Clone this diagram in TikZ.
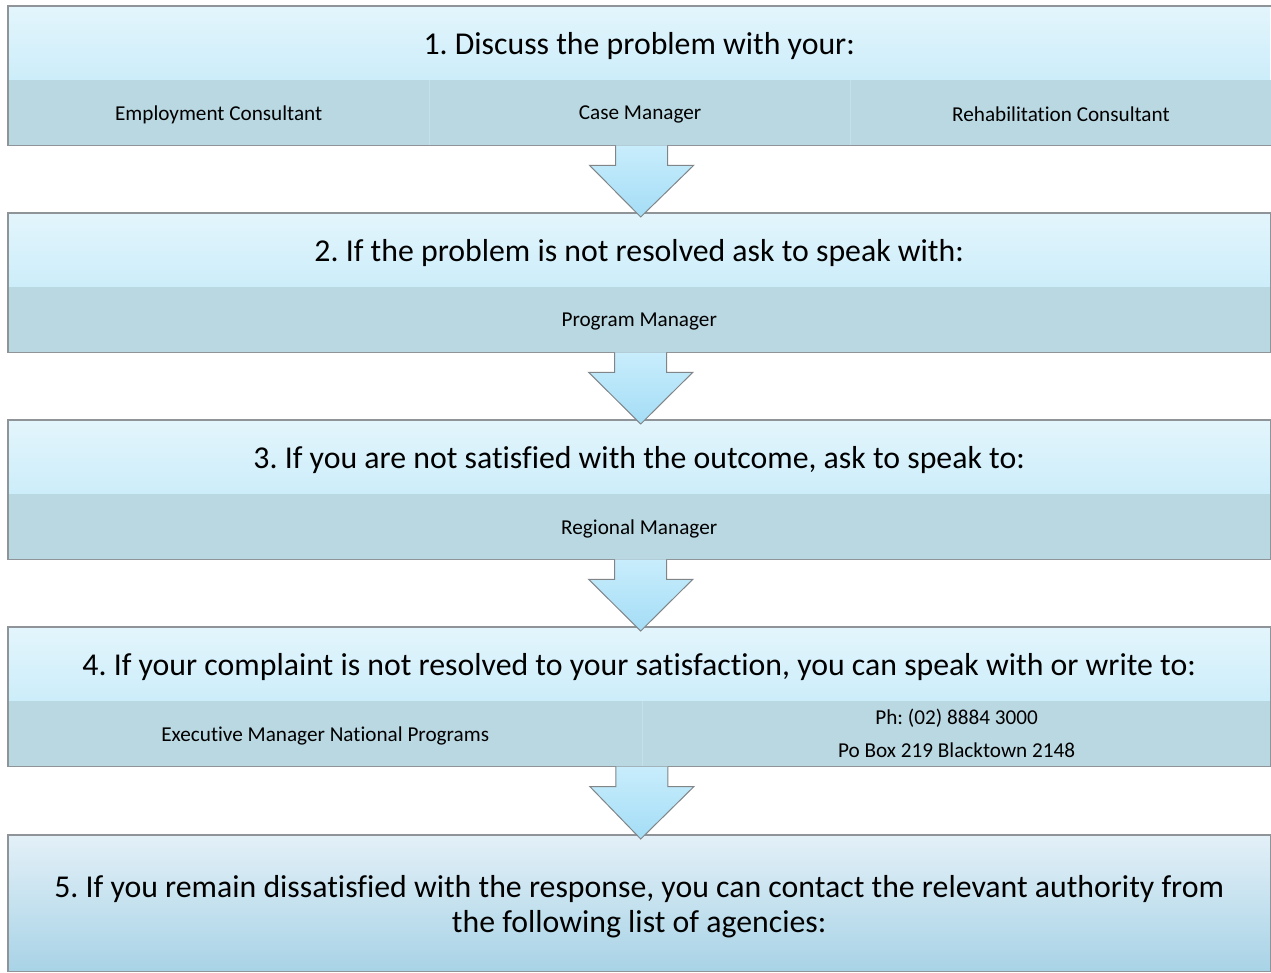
\documentclass[tikz,border=0pt]{standalone}
\usepackage{fontspec}
\setmainfont{Carlito}[Ligatures=NoCommon]
\usetikzlibrary{calc,shadows,backgrounds}
\frenchspacing
\definecolor{hdtop}{HTML}{E3F5FC}
\definecolor{hdbot}{HTML}{CCEDFA}
\definecolor{band}{HTML}{BAD8E2}
\definecolor{divline}{HTML}{C6E0E8}
\definecolor{edge}{HTML}{8E9497}
\definecolor{arrtop}{HTML}{C8EDFC}
\definecolor{arrbot}{HTML}{A4DDF6}
\definecolor{lasttop}{HTML}{E3F0F8}
\definecolor{lastbot}{HTML}{A8D3E6}
\newcommand\bigtxt{\fontsize{31.8}{35}\selectfont}
\newcommand\smalltxt{\fontsize{21.2}{33}\selectfont}
\newcommand\lowered[2]{\raisebox{-#1}[\height][\depth]{#2}}
\tikzset{
  header/.style={anchor=north west, minimum width=1262pt, minimum height=74pt,
    inner sep=0pt, top color=hdtop, bottom color=hdbot, font=\bigtxt},
  bandcell/.style={anchor=north west, minimum height=65pt, inner sep=0pt,
    fill=band, font=\smalltxt, align=center},
  boxline/.style={draw=edge, line width=1.1pt},
  shadowbox/.style={fill=white, drop shadow={opacity=0.35, shadow xshift=1pt, shadow yshift=-2.5pt}},
  arrowfill/.style={top color=arrtop, bottom color=arrbot},
  arrowedge/.style={draw=edge!90!black, line width=1pt, line join=miter},
  divider/.style={draw=divline, line width=1pt},
}
\newcommand\flowarrow[2]{%
  \shade[arrowfill] ($(#1.south)+(-24.5,0)$) -- ++(0,20) -- ++(-26,0)
     -- ($(#2.north)+(1.5,4)$) -- ($(#1.south)+(53.5,20)$) -- ++(-26,0) -- ++(0,-20) -- cycle;
  \draw[arrowedge] ($(#1.south)+(-24.5,0)$) -- ++(0,20) -- ++(-26,0)
     -- ($(#2.north)+(1.5,4)$) -- ($(#1.south)+(53.5,20)$) -- ++(-26,0) -- ++(0,-20);
}
\begin{document}
\begin{tikzpicture}[x=1pt,y=-1pt]
\useasboundingbox[fill=white] (0,0) rectangle (1271,973);

% Box 1
\node[header] (h1) at (8,6) {\lowered{3pt}{1. Discuss the problem with your:}};
\node[bandcell, minimum width=421pt] (c1a) at (8,80) {\lowered{2pt}{Employment Consultant}};
\node[bandcell, minimum width=421pt] (c1b) at (c1a.north east) {\lowered{2pt}{Case Manager}};
\node[bandcell, minimum width=420pt] (c1c) at (c1b.north east) {\lowered{2pt}{Rehabilitation Consultant}};

% Box 2
\node[header] (h2) at (8,213) {\lowered{3pt}{2. If the problem is not resolved ask to speak with:}};
\node[bandcell, minimum width=1262pt] (c2) at (8,287) {\lowered{2pt}{Program Manager}};

% Box 3
\node[header] (h3) at (8,420) {\lowered{3pt}{3. If you are not satisfied with the outcome, ask to speak to:}};
\node[bandcell, minimum width=1262pt] (c3) at (8,494) {\lowered{2pt}{Regional Manager}};

% Box 4
\node[header] (h4) at (8,627) {\lowered{3pt}{4. If your complaint is not resolved to your satisfaction, you can speak with or write to:}};
\node[bandcell, minimum width=634pt] (c4a) at (8,701) {\lowered{2pt}{Executive Manager National Programs}};
\node[bandcell, minimum width=628pt] (c4b) at (c4a.north east) {Ph: (02) 8884 3000\\Po Box 219 Blacktown 2148};
\node[inner sep=0pt, minimum size=0pt] (c4mid) at ($(c4a.south east)+(-2,0)$) {};

% Box 5
\node[anchor=north west, minimum width=1262pt, minimum height=136pt, inner sep=0pt,
  top color=lasttop, bottom color=lastbot, font=\bigtxt] (h5) at (8,835)
  {\lowered{4.5pt}{\begin{tabular}{@{}c@{}}5. If you remain dissatisfied with the response, you can contact the relevant authority from\\the following list of agencies:\end{tabular}}};

% shadows and outlines
\begin{scope}[on background layer]
  \path[shadowbox] (h1.north west) rectangle (c1c.south east);
  \path[shadowbox] (h2.north west) rectangle (c2.south east);
  \path[shadowbox] (h3.north west) rectangle (c3.south east);
  \path[shadowbox] (h4.north west) rectangle (c4b.south east);
  \path[shadowbox] (h5.north west) rectangle (h5.south east);
\end{scope}
\draw[divider] (c1a.north east) -- (c1a.south east);
\draw[divider] (c1b.north east) -- (c1b.south east);
\draw[divider] (c4a.north east) -- (c4a.south east);
\draw[boxline] (h1.north west) rectangle (c1c.south east);
\draw[boxline] (h2.north west) rectangle (c2.south east);
\draw[boxline] (h3.north west) rectangle (c3.south east);
\draw[boxline] (h4.north west) rectangle (c4b.south east);
\draw[boxline] (h5.north west) rectangle (h5.south east);

% arrows
\flowarrow{c1b}{h2}
\flowarrow{c2}{h3}
\flowarrow{c3}{h4}
\flowarrow{c4mid}{h5}
\end{tikzpicture}
\end{document}
